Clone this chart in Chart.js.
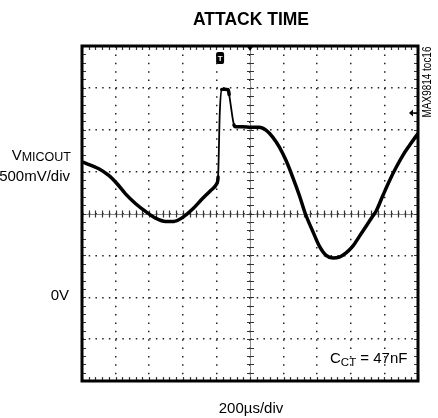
<!DOCTYPE html>
<html>
<head>
<meta charset="utf-8">
<script src="https://cdn.jsdelivr.net/npm/chart.js@4.4.0/dist/chart.umd.min.js"></script>
<style>
  html, body { margin: 0; padding: 0; background: #fff; }
</style>
</head>
<body>
<canvas id="scope" width="438" height="418"></canvas>
<script>
// time in microseconds (200us/div), VMICOUT in volts (500mV/div, 0V two divs below centre)
var timeUs = [0, 100, 159, 209, 259, 318, 378, 438, 498, 547, 597, 657, 716, 766, 802, 810,
  820, 832, 846, 870, 876, 905, 915, 955, 1005, 1055, 1095, 1134, 1174, 1214, 1254, 1294,
  1329, 1373, 1413, 1453, 1493, 1532, 1572, 1612, 1652, 1692, 1731, 1751, 1791, 1831, 1871,
  1910, 1950, 2000];
var vmicout = [1.615, 1.535, 1.455, 1.355, 1.235, 1.12, 1.025, 0.945, 0.905, 0.905, 0.95, 1.05,
  1.175, 1.275, 1.355, 1.435, 2.195, 2.48, 2.485, 2.48, 2.42, 2.055, 2.035, 2.035, 2.03, 2.03,
  1.995, 1.915, 1.795, 1.635, 1.435, 1.215, 1.0, 0.79, 0.61, 0.5, 0.47, 0.48, 0.53, 0.61, 0.73,
  0.85, 0.97, 1.03, 1.215, 1.395, 1.555, 1.695, 1.815, 1.955];

var timeDiv = 200;     // us per division
var voltDiv = 0.5;     // V per division
var timeRange = [0, 2000];
var voltRange = [-1, 3];
var centreTime = 1000;
var centreVolt = 1.0;
var triggerTime = 822;
var triggerLevel = 2.2;

var FONT = '"Liberation Sans", Arial, sans-serif';

var pts = timeUs.map(function (t, i) { return { x: t, y: vmicout[i] }; });

var scopeDecor = {
  id: 'scopeDecor',
  beforeDatasetsDraw: function (chart) {
    var c = chart.ctx, xs = chart.scales.x, ys = chart.scales.y, a = chart.chartArea;
    var cx = xs.getPixelForValue(centreTime), cy = ys.getPixelForValue(centreVolt);
    c.save();
    c.strokeStyle = '#8a8a8a';
    c.lineWidth = 1;
    c.beginPath();
    c.moveTo(a.left, Math.round(cy) + 0.5); c.lineTo(a.right, Math.round(cy) + 0.5);
    c.moveTo(Math.round(cx) + 0.5, a.top); c.lineTo(Math.round(cx) + 0.5, a.bottom);
    c.stroke();
    // minor ticks on centre cross and on the frame
    c.strokeStyle = '#333';
    c.lineWidth = 1.2;
    c.beginPath();
    for (var t = timeRange[0]; t <= timeRange[1]; t += timeDiv / 5) {
      var px = Math.round(xs.getPixelForValue(t)) + 0.5;
      c.moveTo(px, cy - 3); c.lineTo(px, cy + 4);
      c.moveTo(px, a.top); c.lineTo(px, a.top + 4);
      c.moveTo(px, a.bottom); c.lineTo(px, a.bottom - 4);
    }
    for (var v = voltRange[0]; v <= voltRange[1] + 1e-6; v += voltDiv / 5) {
      var py = Math.round(ys.getPixelForValue(v)) + 0.5;
      c.moveTo(cx - 3, py); c.lineTo(cx + 4, py);
      c.moveTo(a.left, py); c.lineTo(a.left + 4, py);
      c.moveTo(a.right, py); c.lineTo(a.right - 4, py);
    }
    c.stroke();
    c.restore();
  },
  afterDraw: function (chart) {
    var c = chart.ctx, xs = chart.scales.x, ys = chart.scales.y, a = chart.chartArea;
    c.save();
    // frame
    c.strokeStyle = '#000';
    c.lineWidth = 3;
    c.strokeRect(a.left, a.top, a.right - a.left, a.bottom - a.top);

    // centre marker on top
    var cx = xs.getPixelForValue(centreTime);
    c.fillStyle = '#000';
    c.beginPath();
    c.moveTo(cx - 4, a.top - 1); c.lineTo(cx + 4, a.top - 1); c.lineTo(cx, a.top + 5);
    c.closePath(); c.fill();

    // trigger marker "T"
    var tx = xs.getPixelForValue(triggerTime);
    c.beginPath();
    if (c.roundRect) c.roundRect(tx - 4, a.top + 6, 8, 12, 2); else c.rect(tx - 4, a.top + 6, 8, 12);
    c.fill();
    c.fillStyle = '#fff';
    c.font = 'bold 8px ' + FONT;
    c.textAlign = 'center';
    c.textBaseline = 'alphabetic';
    c.fillText('T', tx, a.top + 15);

    // trigger level arrow on the right
    var ty = ys.getPixelForValue(triggerLevel);
    c.fillStyle = '#000';
    c.beginPath();
    c.moveTo(a.right - 9, ty); c.lineTo(a.right - 5, ty - 3.5); c.lineTo(a.right - 5, ty + 3.5);
    c.closePath(); c.fill();
    c.lineWidth = 1.5;
    c.beginPath(); c.moveTo(a.right - 6, ty); c.lineTo(a.right - 1, ty); c.stroke();

    // texts
    c.fillStyle = '#000';
    c.textAlign = 'center';
    c.font = 'bold 17.5px ' + FONT;
    c.fillText('ATTACK TIME', 251, 25);
    c.font = '15px ' + FONT;
    c.fillText('200\u00b5s/div', 251, 413);

    c.textAlign = 'right';
    c.font = '12.5px ' + FONT;
    var sub = 'MICOUT';
    var sw = c.measureText(sub).width;
    c.fillText(sub, 71, 161);
    c.font = '15px ' + FONT;
    c.fillText('V', 71 - sw, 160);
    c.fillText('500mV/div', 70, 181);
    c.fillText('0V', 69, 300);

    c.textAlign = 'left';
    var x0 = 330;
    c.font = '15px ' + FONT;
    c.fillText('C', x0, 363);
    x0 += c.measureText('C').width;
    c.font = '11.5px ' + FONT;
    c.fillText('CT', x0, 366);
    x0 += c.measureText('CT').width;
    c.font = '15px ' + FONT;
    c.fillText(' = 47nF', x0, 363);

    c.translate(428, 82);
    c.rotate(-Math.PI / 2);
    c.scale(0.83, 1);
    c.textAlign = 'center';
    c.textBaseline = 'middle';
    c.font = '12px ' + FONT;
    c.fillText('MAX9814 toc16', 0, 0);
    c.restore();
  }
};

new Chart(document.getElementById('scope').getContext('2d'), {
  type: 'line',
  data: {
    datasets: [{
      data: pts,
      borderColor: '#000',
      borderWidth: 3.5,
      borderCapStyle: 'round',
      borderJoinStyle: 'round',
      pointRadius: 0,
      cubicInterpolationMode: 'monotone',
      fill: false,
      segment: {
        borderWidth: function (ctx) {
          var dx = ctx.p1.parsed.x - ctx.p0.parsed.x;
          var dy = Math.abs(ctx.p1.parsed.y - ctx.p0.parsed.y);
          return dy / dx > 0.011 ? 1.8 : 3.5;
        }
      }
    }]
  },
  options: {
    responsive: false,
    animation: false,
    layout: { padding: { left: 82, top: 46, right: 20, bottom: 37 } },
    plugins: { legend: { display: false }, tooltip: { enabled: false } },
    scales: {
      x: {
        type: 'linear', min: timeRange[0], max: timeRange[1],
        ticks: { stepSize: timeDiv, display: false },
        grid: { color: '#222', lineWidth: 1.5, drawTicks: false },
        border: { display: false, dash: [1.5, 6.875] }
      },
      y: {
        type: 'linear', min: voltRange[0], max: voltRange[1],
        ticks: { stepSize: voltDiv, display: false },
        grid: { color: '#222', lineWidth: 1.5, drawTicks: false },
        border: { display: false, dash: [1.5, 5.22] }
      }
    }
  },
  plugins: [scopeDecor]
});
</script>
</body>
</html>
